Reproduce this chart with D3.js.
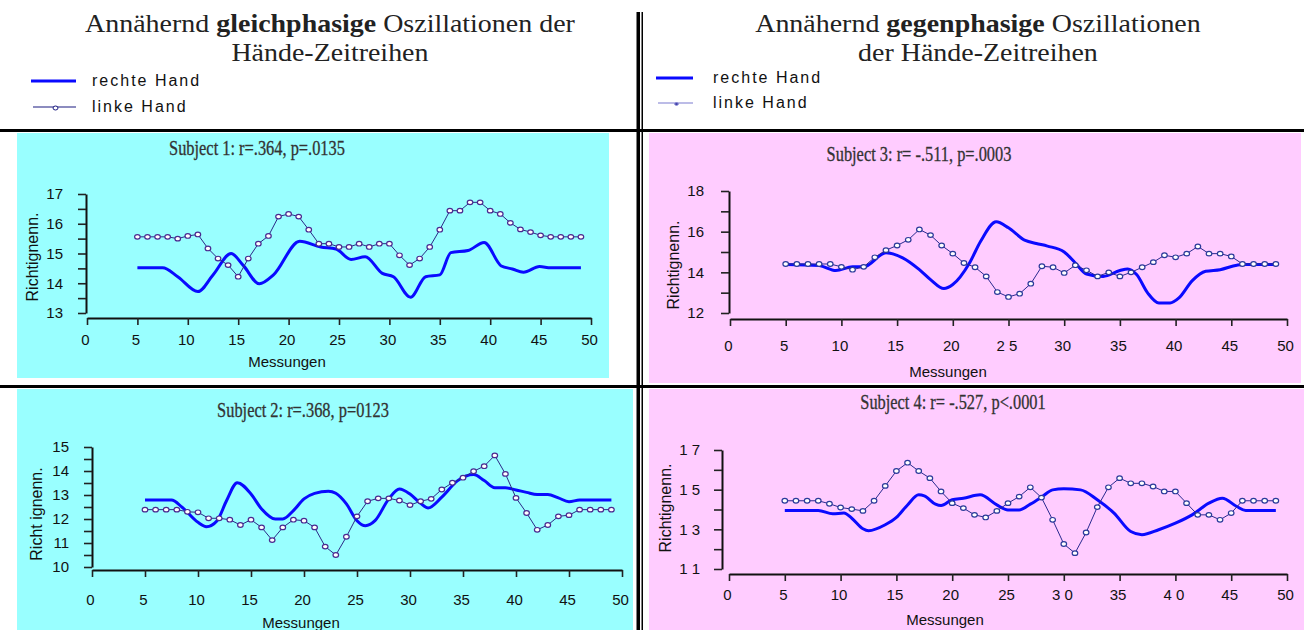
<!DOCTYPE html>
<html>
<head>
<meta charset="utf-8">
<script src="https://cdn.jsdelivr.net/npm/d3@7"></script>
<style>
  html, body { margin: 0; padding: 0; background: #ffffff; }
  svg { display: block; }
</style>
</head>
<body>
<svg id="chart" width="1304" height="630"></svg>
<script>
// ---- Messungen (x positions of the linke-Hand samples) ----
const messungen = [5,6,7,8,9,10,11,12,13,14,15,16,17,18,19,20,21,22,23,24,25,26,27,
                   28,29,30,31,32,33,34,35,36,37,38,39,40,41,42,43,44,45,46,47,48,49];

// ---- X axis ticks ----
const xTicks = [0,5,10,15,20,25,30,35,40,45,50];
const xLabelsA = ["0","5","10","15","20","25","30","35","40","45","50"];
const xLabelsS3 = ["0","5","10","15","20","2 5","30","35","40","45","50"];
const xLabelsS4 = ["0","5","10","15","20","25","3 0","35","4 0","45","50"];

// ---- Subject 1 ----
const s1Left = [15.56,15.56,15.56,15.56,15.50,15.59,15.64,15.17,14.83,14.61,14.22,14.83,15.33,
                15.59,16.24,16.33,16.24,15.80,15.33,15.33,15.22,15.22,15.33,15.22,15.33,15.33,
                14.94,14.61,14.83,15.22,15.80,16.44,16.44,16.72,16.72,16.44,16.33,16.03,15.81,
                15.72,15.61,15.56,15.56,15.56,15.56];
const s1RightX = [5,7.5,9,11,12.5,14.3,15.5,17.1,18.5,21.1,23.2,24.7,26.2,27.6,29.3,30.4,
                  32.1,33.6,35,36.1,37.8,39.4,41.1,42.2,43.3,44.9,46,49];
const s1RightY = [14.52,14.52,14.22,13.72,14.28,15.0,14.6,13.98,14.28,15.41,15.22,15.15,14.8,
                  14.89,14.33,14.22,13.53,14.22,14.28,15.03,15.1,15.37,14.58,14.48,14.37,14.56,
                  14.52,14.52];
const s1YTicks = [13,13.5,14,14.5,15,15.5,16,16.5,17];
const s1YLabels = ["13","","14","","15","","16","","17"];

// ---- Subject 2 ----
const s2Left = [12.39,12.39,12.39,12.39,12.30,12.28,12.03,12.03,11.97,11.75,11.97,11.65,11.12,
                11.65,11.97,11.93,11.65,10.85,10.50,11.26,12.11,12.74,12.86,12.86,12.77,12.58,
                12.74,12.84,13.23,13.51,13.72,13.99,14.20,14.65,13.88,12.88,12.25,11.55,11.75,
                12.11,12.16,12.39,12.39,12.39,12.39];
const s2RightX = [5,7.5,8.5,10,10.8,11.8,12.7,13.7,15,16,17.3,18,19,20,21,22.3,23,24,25,25.8,
                  26.7,28,29,30,31,31.7,33,34.5,36,37,38,39,40,41,42,43,44,45,46,49];
const s2RightY = [12.79,12.79,12.49,11.86,11.68,11.93,12.77,13.51,13.04,12.42,12.0,12.0,12.35,
                  12.84,13.07,13.16,13.07,12.63,11.93,11.72,11.93,12.84,13.25,13.04,12.65,12.46,
                  12.91,13.6,13.85,13.6,13.3,13.3,13.21,13.11,13.02,13.02,12.88,12.72,12.79,12.79];
const s2YTicks = [10,10.5,11,11.5,12,12.5,13,13.5,14,14.5,15];
const s2YLabels = ["10","","11","","12","","13","","14","","15"];

// ---- Subject 3 ----
const s3Left = [14.41,14.41,14.41,14.41,14.41,14.27,14.13,14.27,14.74,15.09,15.32,15.60,16.11,
                15.83,15.32,14.92,14.46,14.25,13.80,13.03,12.79,12.95,13.44,14.30,14.25,13.97,
                14.35,14.10,13.80,14.00,13.80,14.00,14.25,14.50,14.84,14.74,14.92,15.27,14.92,
                14.92,14.78,14.41,14.41,14.41,14.41];
const s3RightX = [5,8,9.5,11,12,14,15.5,17,18,19.2,20,21.5,22.5,23.9,25,26.5,27.5,28.5,30,31,
                  32,33.5,35,35.7,36.5,37.5,38.5,39.5,40.3,41.5,42.7,44,45.5,46,49];
const s3RightY = [14.38,14.33,14.09,14.27,14.27,14.96,14.71,14.13,13.64,13.2,13.4,14.46,15.53,
                  16.49,16.19,15.57,15.42,15.29,15.0,14.46,13.92,13.8,14.09,14.17,13.89,12.98,
                  12.49,12.49,12.74,13.59,14.05,14.13,14.35,14.38,14.38];
const s3YTicks = [12,13,14,15,16,17,18];
const s3YLabels = ["12","","14","","16","","18"];

// ---- Subject 4 ----
const s4Left = [14.44,14.44,14.44,14.44,14.29,14.10,14.02,13.93,14.44,15.19,15.94,16.36,15.94,
                15.58,14.91,14.32,14.07,13.73,13.60,13.93,14.32,14.65,15.12,14.60,13.48,12.26,
                11.80,12.84,14.12,15.12,15.58,15.32,15.32,15.16,14.91,14.91,14.32,13.73,13.73,
                13.48,13.82,14.44,14.44,14.44,14.44];
const s4RightX = [5,8,9.3,10.3,11,12,12.5,14,15,16,17,17.5,18.5,19,20,21,22.5,24,25,26,27,28,
                  29,30,31.5,33,34.5,36,37,38.5,40,41.5,43,44.2,45.5,46.3,49];
const s4RightY = [13.95,13.95,13.78,13.82,13.56,13.03,12.93,13.23,13.6,14.23,14.74,14.69,14.27,
                  14.2,14.49,14.57,14.74,14.23,13.98,13.98,14.27,14.62,14.99,15.04,14.99,14.49,
                  13.82,12.89,12.73,12.98,13.31,13.73,14.32,14.57,14.15,13.95,13.95];
const s4YTicks = [11,12,13,14,15,16,17];
const s4YLabels = ["1 1","","1 3","","1 5","","1 7"];

// ---- Texts ----
const titles = ["Subject 1: r=.364, p=.0135", "Subject 2: r=.368, p=0123",
                "Subject 3: r= -.511, p=.0003", "Subject 4: r= -.527, p<.0001"];
const legendLabels = ["rechte Hand", "linke Hand"];

const svg = d3.select("#chart");
const SANS = "'Liberation Sans', Arial, sans-serif";
const SERIF = "'Liberation Serif', 'Times New Roman', serif";
const RIGHT_BLUE = "#0a0aff";

// ---- Headers: each word run is its own text element, laid out side by side ----
function headerLine(cx, baseline, parts) {
  const size = 26, stretch = 1.075, gap = size * 0.25 * stretch;
  const nodes = parts.map(p => svg.append("text")
    .attr("font-family", SERIF).attr("font-size", size).attr("fill", "#222")
    .attr("font-weight", p[1] ? "bold" : "normal").text(p[0]));
  const widths = nodes.map(n => n.node().getComputedTextLength() * stretch);
  let x = cx - (d3.sum(widths) + gap * (nodes.length - 1)) / 2;
  nodes.forEach((n, i) => {
    n.attr("transform", `translate(${x},${baseline}) scale(${stretch},1)`);
    x += widths[i] + gap;
  });
}
headerLine(330, 32, [["Annähernd", false], ["gleichphasige", true], ["Oszillationen der", false]]);
headerLine(330, 61, [["Hände-Zeitreihen", false]]);
headerLine(978, 32, [["Annähernd", false], ["gegenphasige", true], ["Oszillationen", false]]);
headerLine(978, 61, [["der Hände-Zeitreihen", false]]);

// ---- Legends ----
function legend(lx, ty, rowY, leftColor, markerR, markerFill) {
  svg.append("line").attr("x1", lx[0]).attr("x2", lx[1]).attr("y1", rowY[0]).attr("y2", rowY[0])
    .attr("stroke", RIGHT_BLUE).attr("stroke-width", 3);
  svg.append("line").attr("x1", lx[0] + 2).attr("x2", lx[1]).attr("y1", rowY[1]).attr("y2", rowY[1])
    .attr("stroke", leftColor).attr("stroke-width", 1.2);
  svg.append("ellipse").attr("cx", (lx[0] + lx[1]) / 2 + 2).attr("cy", rowY[1] + 1)
    .attr("rx", markerR + 0.5).attr("ry", markerR).attr("fill", markerFill)
    .attr("stroke", leftColor).attr("stroke-width", 1);
  legendLabels.forEach((s, i) => {
    svg.append("text").attr("x", ty).attr("y", rowY[i] + 5)
      .attr("font-family", SANS).attr("font-size", 16).attr("letter-spacing", 2)
      .attr("fill", "#111").text(s);
  });
}
legend([31, 76], 92, [81, 107], "#1a1a80", 2, "#ffffff");
legend([656, 693], 713, [78, 103], "#7b7bd0", 1.3, "#3a3aa0");

// ---- Panels ----
function panel(p) {
  const g = svg.append("g");
  g.append("rect").attr("x", p.bg[0]).attr("y", p.bg[1]).attr("width", p.bg[2]).attr("height", p.bg[3])
    .attr("fill", p.fill);

  const x = d3.scaleLinear().domain([0, 50]).range([p.x0, p.x1]);
  const y = d3.scaleLinear().domain(p.yDomain).range([p.yBottom, p.yTop]);

  const yAxis = d3.axisLeft(y).tickValues(p.yTicks).tickFormat((d, i) => p.yLabels[i])
    .tickSize(8).tickSizeOuter(0).tickPadding(p.yPad);
  const ya = g.append("g").attr("transform", `translate(${p.yAxisX},0)`).call(yAxis);

  const xAxis = d3.axisBottom(x).tickValues(xTicks).tickFormat((d, i) => p.xLabels[i])
    .tickSize(7).tickSizeOuter(0).tickPadding(p.xPad);
  const xa = g.append("g").attr("transform", `translate(0,${p.xAxisY})`).call(xAxis);

  [ya, xa].forEach(a => {
    a.select(".domain").attr("stroke", "#111").attr("stroke-width", 2);
    a.selectAll(".tick line").attr("stroke", "#222").attr("stroke-width", 1.6);
    a.selectAll(".tick text").attr("font-family", SANS).attr("font-size", 15).attr("fill", "#111");
  });
  xa.selectAll(".tick text").attr("dx", -2);

  // rechte Hand: smooth thick curve
  const lineR = d3.line().x(d => x(d[0])).y(d => y(d[1])).curve(d3.curveMonotoneX);
  g.append("path").datum(d3.zip(p.rx, p.ry)).attr("d", lineR)
    .attr("fill", "none").attr("stroke", RIGHT_BLUE).attr("stroke-width", 3)
    .attr("stroke-linejoin", "round");

  // linke Hand: thin line with small open markers
  const lineL = d3.line().x((d, i) => x(messungen[i])).y(d => y(d));
  g.append("path").datum(p.left).attr("d", lineL)
    .attr("fill", "none").attr("stroke", p.leftColor).attr("stroke-width", 1);
  g.selectAll("ellipse.m").data(p.left).enter().append("ellipse").attr("class", "m")
    .attr("cx", (d, i) => x(messungen[i])).attr("cy", d => y(d))
    .attr("rx", 2.8).attr("ry", 2.3)
    .attr("fill", "#ffffff").attr("stroke", p.markerColor).attr("stroke-width", 1.2);

  // panel title: condensed serif
  g.append("text").attr("transform", `translate(${p.title[0]},${p.title[1]}) scale(0.82,1)`)
    .attr("text-anchor", "middle")
    .attr("font-family", SERIF).attr("font-size", 20).attr("fill", "#333")
    .attr("stroke", "#333").attr("stroke-width", 0.3).text(p.titleText);
  g.append("text").attr("transform", `translate(${p.yTitle[0]},${p.yTitle[1]}) rotate(-90)`)
    .attr("text-anchor", "middle").attr("dominant-baseline", "central")
    .attr("font-family", SANS).attr("font-size", 16).attr("fill", "#111").text(p.yTitleText);
  g.append("text").attr("x", p.xTitle[0]).attr("y", p.xTitle[1]).attr("text-anchor", "middle")
    .attr("font-family", SANS).attr("font-size", 15).attr("fill", "#111").text("Messungen");
}

panel({ bg: [17, 133, 592, 245], fill: "#99ffff", x0: 87, x1: 591, yDomain: [13, 17],
  yBottom: 313, yTop: 194, yAxisX: 86, xAxisY: 318, yPad: 15, xPad: 9,
  yTicks: s1YTicks, yLabels: s1YLabels, xLabels: xLabelsA,
  left: s1Left, rx: s1RightX, ry: s1RightY, leftColor: "#2a2a88", markerColor: "#4a2a90",
  title: [257, 155], titleText: titles[0], yTitle: [32, 257], yTitleText: "Richtignenn.", xTitle: [287, 367] });

panel({ bg: [17, 389, 616, 241], fill: "#99ffff", x0: 92, x1: 622, yDomain: [10, 15],
  yBottom: 567, yTop: 447, yAxisX: 92, xAxisY: 570, yPad: 15, xPad: 17,
  yTicks: s2YTicks, yLabels: s2YLabels, xLabels: xLabelsA,
  left: s2Left, rx: s2RightX, ry: s2RightY, leftColor: "#2a2a88", markerColor: "#4a2a90",
  title: [303, 417], titleText: titles[1], yTitle: [36, 514], yTitleText: "Richt ignenn.", xTitle: [301, 628] });

panel({ bg: [649, 133, 652, 250], fill: "#ffccff", x0: 730, x1: 1287, yDomain: [12, 18],
  yBottom: 313, yTop: 191, yAxisX: 729, xAxisY: 319, yPad: 17, xPad: 14,
  yTicks: s3YTicks, yLabels: s3YLabels, xLabels: xLabelsS3,
  left: s3Left, rx: s3RightX, ry: s3RightY, leftColor: "#2a2a90", markerColor: "#2a3a9a",
  title: [919, 161], titleText: titles[2], yTitle: [673, 265], yTitleText: "Richtignenn.", xTitle: [948, 377] });

panel({ bg: [649, 389, 655, 241], fill: "#ffccff", x0: 729, x1: 1287, yDomain: [11, 17],
  yBottom: 569, yTop: 450, yAxisX: 722, xAxisY: 574, yPad: 14, xPad: 8,
  yTicks: s4YTicks, yLabels: s4YLabels, xLabels: xLabelsS4,
  left: s4Left, rx: s4RightX, ry: s4RightY, leftColor: "#2a2a90", markerColor: "#2a3a9a",
  title: [953, 409], titleText: titles[3], yTitle: [665, 508], yTitleText: "Richtignenn.", xTitle: [945, 625] });

// ---- Frame lines ----
svg.append("rect").attr("x", 0).attr("y", 129).attr("width", 1304).attr("height", 3).attr("fill", "#000");
svg.append("rect").attr("x", 0).attr("y", 385).attr("width", 1304).attr("height", 3).attr("fill", "#000");
svg.append("rect").attr("x", 636.5).attr("y", 12).attr("width", 3.5).attr("height", 618).attr("fill", "#000");
svg.append("rect").attr("x", 641.5).attr("y", 12).attr("width", 1.5).attr("height", 618).attr("fill", "#000");
</script>
</body>
</html>
